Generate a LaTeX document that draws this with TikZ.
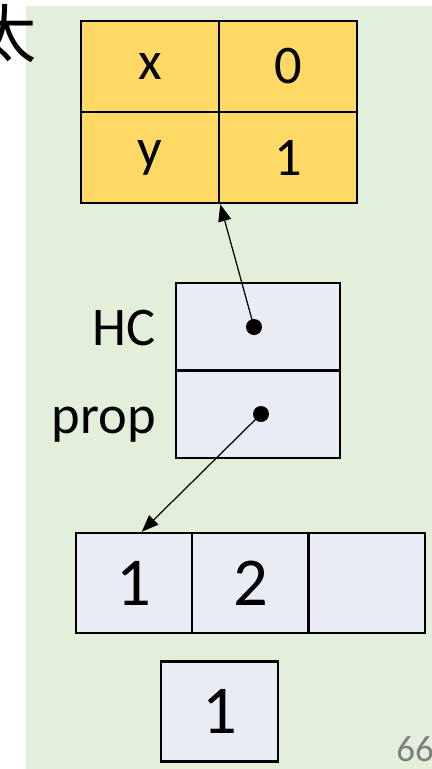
\documentclass[tikz,border=0pt]{standalone}
\usepackage{fontspec}
\setmainfont{Carlito}
\newfontfamily\cjkfont{Noto Sans CJK SC}
\usetikzlibrary{arrows.meta, positioning}
\definecolor{bggreen}{HTML}{E2EFDA}
\definecolor{celly}{HTML}{FFD966}
\definecolor{cellb}{HTML}{E9EBF5}
\definecolor{pagegray}{HTML}{7F7F7F}

\begin{document}
\begin{tikzpicture}[x=0.02cm, y=-0.02cm,
  every node/.style = {font=\fontsize{31}{36}\selectfont},
  ycell/.style = {draw, line width=1.4pt, fill=celly, minimum width=2.76cm, minimum height=1.82cm, inner sep=0pt},
  bcell/.style = {draw, line width=1.4pt, fill=cellb, minimum width=3.28cm, minimum height=1.75cm, inner sep=0pt},
  acell/.style = {draw, line width=1.4pt, fill=cellb, minimum width=2.33cm, minimum height=2cm, inner sep=0pt, font=\fontsize{39}{44}\selectfont},
  dot/.style = {circle, fill=black, minimum size=0.32cm, inner sep=0pt},
  lbl/.style = {anchor=base east, inner sep=0pt},
  ptr/.style = {-{Triangle[length=0.34cm, width=0.26cm]}, line width=0.7pt}
]
  \useasboundingbox (0,0) rectangle (432,769);
  \fill[bggreen] (26,6) rectangle (432,769);
  \node[anchor=north east, inner sep=0pt, font=\cjkfont\fontsize{36}{36}\selectfont] (tai) at (37,4) {太};

  % struct with two fields
  \node[ycell] (xk) at (150,66.5) {x};
  \node[ycell] (xv) at (288,66.5) {0};
  \node[ycell] (yk) at (150,157.5) {y};
  \node[ycell] (yv) at (288,157.5) {1};

  % pointer pair
  \node[bcell] (hc) at (258,326.75) {};
  \node[bcell] (prop) at (258,414.25) {};
  \node[lbl] (hclbl) at (156,345) {HC};
  \node[lbl] (proplbl) at (156,433) {prop};
  \node[dot] (hd) at (254,327) {};
  \node[dot] (pd) at (261,414) {};

  % array
  \node[acell] (a1) at (134.2,583) {1};
  \node[acell] (a2) at (250.5,583) {2};
  \node[acell] (a3) at (366.8,583) {};

  \node[acell] (single) at (219.5,711.5) {1};

  \draw[ptr] (hd.center) -- (yk.south east);
  \draw[ptr] (pd.center) -- ([xshift=0.15cm]a1.north);

  \node[text=pagegray, font=\fontsize{21}{24}\selectfont] (pg) at (415,749) {66};
\end{tikzpicture}
\end{document}
